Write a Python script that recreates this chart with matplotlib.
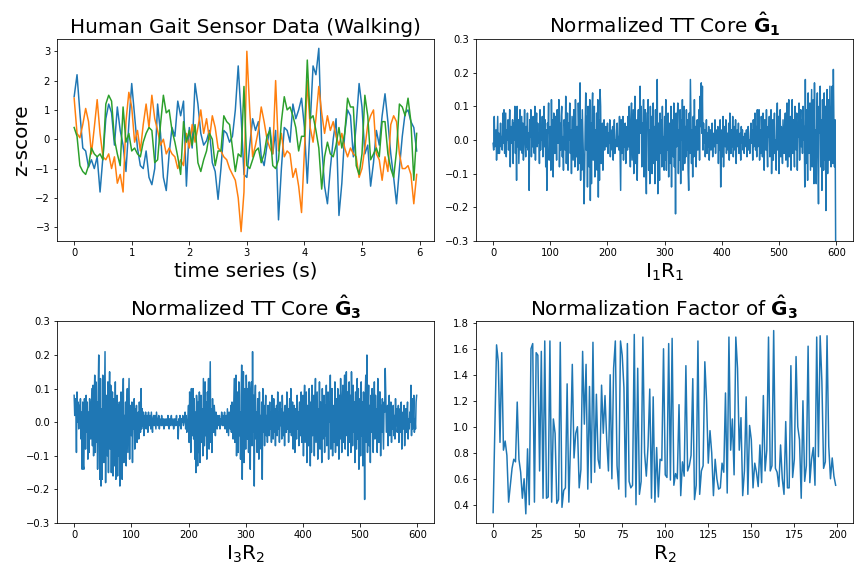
import numpy as np
import matplotlib
matplotlib.use("Agg")
import matplotlib.pyplot as plt

# gait sensor channels, z-score, one sample every 0.05 s
dt = 0.05
gait_blue = [1.45, 2.2, 0.9, -0.3, -0.4, -0.95, -0.7, -1.0, -0.6, -1.8,
             -0.6, 0.7, 1.2, 0.9, -0.2, 1.1, 0.3, -0.2, -1.1, 0.5,
             1.9, 0.8, -0.3, -0.9, -1.0, -0.4, -1.3, -1.55, -1.0, 1.2,
             0.2, -1.3, -1.75, -0.5, 0.4, 0.1, 1.3, 0.8, 1.3, -1.6,
             0.4, -0.3, 1.9, 1.2, 0.2, -0.2, -0.05, 0.3, -0.8, -1.1,
             -2.05, -1.0, 0.3, 0.2, -0.1, 0.1, 1.0, 2.5, 0.8, -1.2,
             -1.3, -0.2, 0.7, 0.3, 0.6, -0.6, -0.9, -0.2, 0.4, -0.5,
             0.3, -2.75, -1.0, 0.4, 0.3, -0.1, 1.2, 0.7, 1.0, 1.4,
             0.4, -1.5, 0.5, 2.5, 2.2, 3.1, -0.2, -1.6, -2.2, -1.0,
             0.0, 0.7, -2.6, -1.5, 0.2, 1.0, 0.8, -0.6, 0.5, 1.9,
             1.1, -0.5, -0.2, -1.6, -0.8, 0.3, -0.2, 0.8, 1.55, 0.6,
             -0.5, -1.3, -2.2, -1.0, 0.1, 0.9, 1.0, 0.6, 0.4, -0.4]
gait_orange = [1.4, 0.2, 0.05, 0.5, 1.05, 0.6, -0.5, 0.4, 1.35, 0.2,
               -0.6, -0.7, -0.5, -1.0, -0.6, -1.5, -1.2, -1.8, 0.6, 1.6,
               1.1, -0.1, 0.3, -0.4, 0.5, 1.2, 0.4, 1.5, 0.7, 0.3,
               -0.2, 0.0, -0.5, -0.3, -0.5, -0.6, -1.0, -0.7, -0.9, 0.2,
               -0.3, 0.5, -0.1, 0.4, 1.0, 0.2, 0.7, 0.0, 0.8, 0.4,
               -0.3, -0.4, -0.6, -0.7, -1.0, -1.2, -1.4, -2.0, -3.15, -1.8,
               3.0, 1.0, -0.6, -0.2, 0.3, 1.1, 0.6, 0.0, -0.3, -0.5,
               2.0, -0.4, 0.2, -0.6, -0.4, -0.5, -1.3, -1.0, -1.6, -2.5,
               -0.4, 2.0, 0.4, -0.1, 0.7, 1.8, 0.9, 0.2, 0.8, 0.3,
               0.6, 0.1, -0.2, 0.2, -0.3, -0.6, -0.3, -0.5, -0.6, -1.3,
               -1.0, -0.3, 0.5, 0.8, 1.0, -0.5, -0.7, -1.4, -0.6, -1.1,
               0.5, 0.8, 0.6, -0.5, -1.0, -1.0, -0.9, -1.2, -2.2, -1.2]
gait_green = [0.4, 0.1, -0.9, -1.1, -1.2, -0.9, -0.3, -0.5, -0.6, -0.5,
              -0.7, 1.2, 1.5, 1.3, 0.0, -0.5, -0.9, 1.1, -0.1, 0.2,
              -0.4, -0.3, -0.5, -0.6, -0.1, 0.2, 0.4, 0.3, -0.8, -0.7,
              0.5, 1.5, 0.9, 1.0, 0.3, -0.1, -0.6, -1.2, 0.6, -0.1,
              0.3, -0.2, 0.5, -0.8, -1.1, -0.7, -0.4, 0.2, 0.0, -0.9,
              -0.4, -0.4, 0.8, 0.6, 0.5, -0.3, -1.1, -0.5, -0.6, 1.8,
              -0.9, -1.0, -0.7, -0.4, -0.3, -0.8, -0.5, 0.1, 0.3, -0.9,
              -1.0, -0.7, 0.6, 1.45, 1.0, 1.1, 0.8, 0.4, -0.4, 0.1,
              0.1, 2.7, 0.7, 0.8, 0.3, -0.3, -1.7, -0.6, -0.1, -0.5,
              -0.6, -0.2, 0.4, -0.3, 0.2, 1.4, 1.1, 1.1, -0.9, -1.2,
              -0.5, 1.5, 0.8, -0.7, -0.5, -0.3, -0.6, 0.6, 0.6, -0.5,
              -1.0, -1.3, -0.4, 1.2, 1.1, 0.8, 1.4, 0.6, -1.4, 0.2]

# normalized TT core G1, in units of 0.01
core_g1 = [
    -1, -3, 7, -2, 0, 3, -6, 1, 7, -4, 2, -4, 0, 5, -2, 1, -3, 8, -1, 9,
    -4, 2, 8, -5, 3, 0, 6, -3, 1, 9, -8, 4, -1, 2, 6, -7, 5, 0, 10, -4,
    3, -12, 10, -2, 6, -7, 1, 9, -3, 2, 7, -4, 5, -6, 1, 9, 0, -5, 4, -2,
    8, -3, 2, -15, 6, 1, 9, -5, 3, -2, 7, 0, -4, 10, -6, 3, 8, -2, 5, -1,
    2, -7, 9, -3, 4, 0, 7, -5, 1, 10, -2, 6, -8, 3, -15, 5, 2, 11, -6, 0,
    4, -9, 12, -2, 6, -11, 8, 0, -4, 7, 3, -6, 9, -1, 2, 12, -8, 5, -3, 7,
    10, -5, 1, -9, 6, 4, -3, 13, -7, 2, 8, -9, 5, 0, 11, -4, 3, -10, 7, 1,
    -6, 9, 2, -8, 12, 0, -5, 4, -9, 11, 3, -7, 17, -12, 6, -9, 9, 1, -6, -19,
    -10, 4, 14, -3, 7, -14, 10, 2, -8, 12, -18, 5, -13, 9, 14, -6, 0, 10, -11, 3,
    -7, 8, -9, 12, -17, 6, -12, 15, 10, -7, 2, 5, -9, 0, 6, -3, 1, 4, -2, 0,
    5, -4, 2, -1, 6, -5, 3, 0, -3, 4, -6, 1, 6, -4, 0, -2, 3, 5, -2, 1,
    -3, 7, -5, -15, 6, -4, 0, 7, -6, 3, -2, 5, -7, 1, 4, -3, 7, -2, 10, 0,
    -8, 5, 11, -6, 2, 9, -10, 4, 13, -7, 0, 6, -12, 3, 9, -4, 7, 16, 2, 10,
    -8, 5, -3, 12, -11, 4, 9, -6, -16, 8, 8, 12, -9, 3, -13, 10, -5, 7, -10, 2,
    11, -7, 4, -13, 9, 0, -6, 18, -16, 5, 2, -12, 8, -4, 6, -8, 10, -3, 1, -9,
    7, -6, 12, -9, 3, -3, 8, -11, 5, 1, -7, 10, -14, 6, 2, -5, 11, -8, 4, -22,
    8, -2, 5, 11, -10, 3, -6, 9, -13, 6, 0, 12, -9, 4, 10, -7, 4, -5, 9, -3,
    6, -9, -15, 8, -4, 18, 5, -7, 3, -11, 7, -5, 12, -2, 4, -8, 0, 6, -3, 2,
    9, -6, 13, 4, 17, 2, 16, -3, 5, -1, 3, -5, 0, 6, -4, 2, -2, 4, -6, 1,
    3, -3, 0, 5, -5, 2, 1, -2, 6, -4, 3, -1, 0, 4, -7, 2, -3, 6, -14, 0,
    3, -5, 7, -8, 1, 4, -2, 6, -4, 0, 2, -3, 5, -6, 8, 1, -4, 3, -2, 7,
    -5, 0, 4, -3, 6, -7, 1, 3, -2, 5, -4, 0, 2, -6, 4, -1, 3, -3, 1, -4,
    2, 0, -2, 3, -5, 1, 4, -3, 0, -4, 2, 5, -1, 3, -6, 6, -2, 1, 8, -3,
    4, -5, 9, -2, 0, 9, -6, 3, -4, 7, 2, -5, 8, 1, -9, 6, 0, -3, 9, -2,
    -8, 4, 1, 7, -5, 0, 9, -10, 3, 6, -6, 2, 8, -4, 0, -9, 5, 11, -3, 7,
    -10, 2, 9, -5, 4, 0, -7, 6, 1, -4, 3, 8, -6, 0, 11, -8, 4, 12, -5, 2,
    7, -9, 3, 12, -4, 6, 0, -8, 10, 2, -3, 8, -9, 5, 1, 11, -6, 3, 9, -2,
    6, -4, 10, 0, 4, -14, 18, -7, 9, 3, -12, 14, -4, 6, 11, -9, 2, 15, -8, 5,
    12, -13, 17, -6, 3, -13, 8, 14, -5, -19, 10, 2, 16, -8, 6, -15, 12, 4, -9, 14,
    -6, 10, -21, 7, 15, -10, 4, 12, -6, 16, 3, -8, 9, 16, -7, 21, 4, -8, 6, -30,
]

# normalized TT core G3, in units of 0.01
core_g3 = [
    8, 2, 7, 4, -9, 9, 0, 6, -2, 5, 1, 7, -5, 3, -14, 6, -13, -14, 7, 2,
    -8, 8, -3, 6, -11, 3, -9, 7, 4, -5, 2, 10, -7, 11, -10, 5, 14, -9, 12, -6,
    6, -14, 9, 20, -3, -17, 13, -19, 4, -17, 14, 3, -12, 6, 21, -18, 8, 2, -10, 12,
    -15, 5, 15, -8, 11, -15, 2, 9, -16, 7, 4, -13, 12, -17, 1, 8, -16, 5, -10, 6,
    -19, 3, 9, -8, -17, 5, 13, -12, 2, -7, 6, -13, 4, 10, -9, 3, 13, -11, 5, 1,
    -4, 6, -12, 3, -2, 7, -8, 4, 0, 5, -6, 2, 3, -5, 6, 1, -3, 10, -2, 4,
    -1, 3, -4, 2, 0, 3, -2, 1, 2, -3, 3, 0, -1, 2, -2, 3, 0, -3, 1, 2,
    -1, 2, 0, -2, 3, 1, -1, 0, 2, -2, 1, 0, -1, 2, -1, 0, 1, -2, 0, 1,
    -1, 0, 1, -1, 2, 0, -2, 1, -1, 0, 2, -1, 0, 1, -2, 0, 1, -1, 0, 2,
    -1, 0, -5, 1, -1, 2, 0, -2, 1, 0, 2, -1, 0, 1, 3, -2, 2, -3, 0, 1,
    5, -6, 9, 2, -9, 10, 6, -4, 10, -5, 7, -11, 3, -15, 8, 4, -13, 6, -9, 9,
    -12, 2, 8, -6, 4, -10, 13, 3, -7, 12, -4, 6, -11, 9, 2, 13, -8, 5, 18, -6,
    4, -9, 7, 0, -3, 5, 2, -4, 3, 1, -2, 2, 0, -1, 2, -2, 1, 0, 3, -1,
    2, -1, 0, 3, -2, 1, 2, -3, 4, 0, -4, 3, 2, -2, 5, -3, 6, 1, -5, 4,
    13, -6, 7, 14, -10, 5, 9, -9, 12, -4, 3, -11, 8, 17, -17, 6, 15, -12, 4, 10,
    -8, 14, 7, -5, 10, -9, 12, 2, -14, 9, 12, -7, 21, -3, 8, -19, 6, 11, -5, 3,
    -9, 7, 4, -11, 9, -5, 2, -8, 6, -17, 10, -3, 5, -7, 3, 8, -4, 2, -6, 5,
    1, -4, 6, -2, 3, -6, 8, 0, -5, 7, -3, 4, -7, 2, 5, -4, 9, -2, 3, -6,
    6, -1, 4, -5, 8, 1, -4, 3, -7, 5, 0, -3, 9, -2, 4, -6, 2, 7, -3, 10,
    -4, 3, 6, -8, 2, 5, -9, 4, 0, -5, 8, -2, 3, -7, 6, 1, -4, 9, -6, 2,
    8, -10, 4, 11, -6, 2, 9, -12, 5, 0, -7, 10, 3, -13, 6, -9, 11, -4, 2, 8,
    -10, 5, 13, -6, 1, 9, -11, 4, -3, 12, -8, 6, 2, -12, 10, -5, 3, 8, -9, 5,
    -4, 11, -7, 2, 9, -11, 6, 0, 14, -8, 3, 10, -10, 5, 1, -6, 12, -9, 4, 7,
    -7, 10, 2, -11, 8, -5, 13, 0, -9, 6, 11, -6, 3, 14, -8, 5, 15, -4, 9, -10,
    4, 12, -6, 8, -9, 15, 2, -7, 11, -3, 6, -12, 9, 1, -8, 13, -5, 10, -14, 3,
    7, -10, 12, -4, 6, -13, 9, 2, -23, 8, 14, -6, 20, -9, 4, 11, -7, 5, -12, 8,
    -3, 10, 6, -9, 3, 12, -5, 8, -2, 4, -9, 13, 1, -6, 9, 9, -10, 5, -3, 7,
    0, -8, 6, 3, 16, 8, -3, 1, 5, -7, 2, 8, -4, 0, 6, -6, 3, -2, 5, -4,
    2, -5, 7, -1, 4, -3, 0, 5, -6, 2, 4, -3, 6, -8, 1, 3, -2, 5, -7, 0,
    4, -3, 2, 6, -5, 1, -2, 3, 0, 11, -4, 7, -2, 2, 8, -3, 1, -2, 6, 8,
]

# normalization factor of G3
norm_factor = [
    0.34, 1.0, 1.63, 1.5, 0.88, 1.57, 0.82, 0.89, 0.78, 0.42,
    0.55, 0.68, 0.75, 0.73, 1.19, 0.75, 0.65, 0.45, 0.6, 0.33,
    0.83, 0.4, 1.6, 1.64, 0.42, 1.57, 1.55, 0.66, 1.58, 0.45,
    1.66, 0.45, 0.46, 1.66, 0.42, 1.06, 0.95, 0.41, 0.44, 1.65,
    0.38, 0.51, 0.53, 1.33, 0.42, 0.88, 1.48, 0.76, 0.95, 1.0,
    0.53, 0.67, 1.58, 1.02, 1.48, 0.52, 1.31, 0.57, 1.65, 0.65,
    1.25, 0.75, 0.68, 1.32, 0.95, 1.24, 0.9, 0.66, 1.4, 0.6,
    1.45, 1.66, 0.7, 0.52, 1.66, 1.55, 1.3, 0.46, 1.64, 0.58,
    0.53, 0.55, 1.71, 0.4, 1.45, 0.48, 0.58, 1.69, 0.8, 0.62,
    0.85, 1.29, 0.45, 1.23, 0.42, 0.84, 0.46, 0.75, 0.74, 1.6,
    0.63, 0.61, 1.64, 0.59, 1.68, 0.55, 0.64, 0.6, 1.17, 0.47,
    0.73, 0.62, 1.47, 0.66, 0.7, 0.78, 1.37, 0.44, 0.55, 1.66,
    0.48, 0.66, 0.7, 1.5, 1.2, 0.72, 0.97, 0.8, 0.47, 0.75,
    0.6, 0.52, 0.53, 0.72, 0.65, 1.26, 0.49, 1.69, 0.82, 1.06,
    0.63, 1.69, 1.45, 0.82, 1.07, 0.47, 0.66, 1.23, 0.48, 1.01,
    0.9, 0.53, 0.72, 0.65, 0.54, 0.86, 0.57, 1.24, 0.66, 0.82,
    1.69, 0.66, 0.7, 1.74, 0.68, 0.65, 0.54, 0.86, 0.6, 0.48,
    1.04, 0.53, 0.53, 1.47, 0.61, 0.75, 1.54, 1.0, 0.9, 0.45,
    1.2, 0.58, 0.7, 1.62, 0.57, 0.75, 0.84, 0.55, 1.69, 0.77,
    1.7, 1.35, 0.68, 0.73, 1.7, 0.85, 0.6, 0.76, 0.62, 0.55,
]

fig, axes = plt.subplots(2, 2, figsize=(12, 8), dpi=72)
fig.subplots_adjust(left=0.066, right=0.987, top=0.932, bottom=0.092,
                    wspace=0.112, hspace=0.40)

ax = axes[0, 0]
t = np.arange(len(gait_blue)) * dt
ax.plot(t, gait_blue)
ax.plot(t, gait_orange)
ax.plot(t, gait_green)
ax.set_title("Human Gait Sensor Data (Walking)", fontsize=20)
ax.set_xlabel("time series (s)", fontsize=20)
ax.set_ylabel("z-score", fontsize=20)

ax = axes[0, 1]
ax.plot(np.arange(len(core_g1)), np.array(core_g1) / 100)
ax.set_ylim(-0.3, 0.3)
ax.set_title(r"Normalized TT Core $\mathbf{\hat{G}_1}$", fontsize=20)
ax.set_xlabel(r"$\mathrm{I_1R_1}$", fontsize=20)

ax = axes[1, 0]
ax.plot(np.arange(len(core_g3)), np.array(core_g3) / 100)
ax.set_ylim(-0.3, 0.3)
ax.set_title(r"Normalized TT Core $\mathbf{\hat{G}_3}$", fontsize=20)
ax.set_xlabel(r"$\mathrm{I_3R_2}$", fontsize=20)

ax = axes[1, 1]
ax.plot(np.arange(len(norm_factor)), norm_factor)
ax.set_title(r"Normalization Factor of $\mathbf{\hat{G}_3}$", fontsize=20)
ax.set_xlabel(r"$\mathrm{R_2}$", fontsize=20)

fig.savefig("out.png")
